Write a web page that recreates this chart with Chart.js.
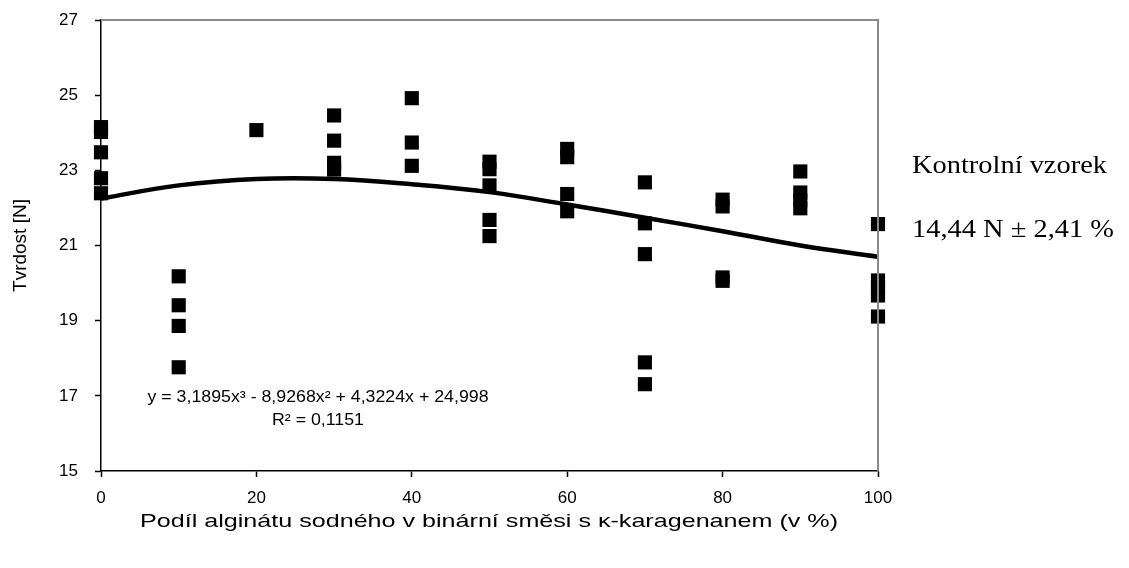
<!DOCTYPE html>
<html>
<head>
<meta charset="utf-8">
<script src="https://cdn.jsdelivr.net/npm/chart.js@4.4.1/dist/chart.umd.min.js"></script>
<style>
  html, body { margin: 0; padding: 0; background: #fff; }
  #wrap { width: 1129px; height: 568px; position: relative; }
</style>
</head>
<body>
<div id="wrap"><canvas id="c" width="1129" height="568"></canvas></div>
<script>
// ---- data ----
const xGroups = [0, 10, 20, 30, 40, 50, 60, 70, 80, 90, 100];
const hardness = [
  [24.15, 24.02, 23.48, 22.79, 22.39],
  [20.18, 19.41, 18.86, 17.76],
  [24.07],
  [24.46, 23.79, 23.2, 23.02],
  [24.92, 23.74, 23.12],
  [23.23, 23.03, 22.6, 21.68, 21.25],
  [23.57, 23.35, 22.37, 21.91],
  [22.68, 21.59, 20.77, 17.89, 17.31],
  [22.22, 22.04, 20.15, 20.06],
  [22.97, 22.41, 22.2, 21.99],
  [21.57, 20.07, 19.88, 19.67, 19.11]
];
const trendY = [22.25, 22.6, 22.77, 22.77, 22.63, 22.42, 22.09, 21.74, 21.38, 21.0, 20.7];
const yTicks = [15, 17, 19, 21, 23, 25, 27];
const xTicks = [0, 20, 40, 60, 80, 100];
const xTitle = 'Podíl alginátu sodného v binární směsi s κ-karagenanem (v %)';
const yTitle = 'Tvrdost [N]';
const equationLines = ['y = 3,1895x³ - 8,9268x² + 4,3224x + 24,998', 'R² = 0,1151'];
const sideNotes = ['Kontrolní vzorek', '14,44 N ± 2,41 %'];

const points = [];
xGroups.forEach((x, i) => hardness[i].forEach(v => points.push({x: x, y: v})));
const trend = xGroups.map((x, i) => ({x: x, y: trendY[i]}));

const SANS = '"Liberation Sans", Arial, sans-serif';
const SERIF = '"Liberation Serif", "Times New Roman", serif';

const frame = {
  id: 'frame',
  afterDraw(chart) {
    const {ctx, chartArea: a} = chart;
    ctx.save();
    ctx.strokeStyle = '#8a8a8a';
    ctx.lineWidth = 2;
    ctx.beginPath();
    ctx.moveTo(a.left, a.top);
    ctx.lineTo(a.right, a.top);
    ctx.lineTo(a.right, a.bottom);
    ctx.stroke();
    ctx.restore();
  }
};

// draws a text line with a horizontal stretch factor k
function drawStretched(ctx, text, x, y, font, k, align) {
  ctx.save();
  ctx.font = font;
  const w = ctx.measureText(text).width * k;
  let x0 = x;
  if (align === 'center') x0 = x - w / 2;
  ctx.translate(x0, y);
  ctx.scale(k, 1);
  ctx.textAlign = 'left';
  ctx.textBaseline = 'middle';
  ctx.fillText(text, 0, 0);
  ctx.restore();
}
function factorFor(ctx, text, font, width) {
  ctx.save();
  ctx.font = font;
  const w = ctx.measureText(text).width;
  ctx.restore();
  return width / w;
}

const notes = {
  id: 'notes',
  afterDraw(chart) {
    const {ctx} = chart;
    ctx.save();
    ctx.fillStyle = '#000';
    const eqFont = '16px ' + SANS;
    const kEq = factorFor(ctx, equationLines[0], eqFont, 341);
    drawStretched(ctx, equationLines[0], 318, 398, eqFont, kEq, 'center');
    drawStretched(ctx, equationLines[1], 318, 421, eqFont, kEq, 'center');
    const noteFont = '25px ' + SERIF;
    const kNote = factorFor(ctx, sideNotes[0], noteFont, 195);
    drawStretched(ctx, sideNotes[0], 912, 166, noteFont, kNote, 'left');
    drawStretched(ctx, sideNotes[1], 912, 230, noteFont, kNote, 'left');
    const tFont = '19px ' + SANS;
    drawStretched(ctx, xTitle, 489, 522, tFont, factorFor(ctx, xTitle, tFont, 698), 'center');
    ctx.restore();
  }
};

new Chart(document.getElementById('c'), {
  type: 'scatter',
  data: {
    datasets: [
      {
        data: trend,
        type: 'line',
        showLine: true,
        borderColor: '#000',
        borderWidth: 4.5,
        pointRadius: 0,
        tension: 0.4,
        fill: false,
        order: 2
      },
      {
        data: points,
        pointStyle: 'rect',
        pointRadius: 10,
        pointHoverRadius: 10,
        backgroundColor: '#000',
        borderColor: '#000',
        borderWidth: 0,
        clip: false,
        order: 1
      }
    ]
  },
  options: {
    responsive: false,
    animation: false,
    events: [],
    layout: { autoPadding: false, padding: { left: 0, top: 20, right: 251, bottom: 0 } },
    plugins: { legend: { display: false }, tooltip: { enabled: false } },
    scales: {
      x: {
        type: 'linear',
        min: 0, max: 100,
        afterBuildTicks(s) { s.ticks = xTicks.map(v => ({value: v})); },
        afterFit(s) { s.height = 97; s.paddingLeft = 0; s.paddingRight = 0; },
        grid: { drawOnChartArea: false, tickLength: 6, color: '#000', tickWidth: 1.5 },
        border: { color: '#000', width: 1.5 },
        ticks: { color: '#000', font: { family: SANS, size: 17 }, padding: 11, maxRotation: 0 },
        title: { display: false }
      },
      y: {
        type: 'linear',
        min: 15, max: 27,
        afterBuildTicks(s) { s.ticks = yTicks.map(v => ({value: v})); },
        afterFit(s) { s.width = 101; s.paddingTop = 0; s.paddingBottom = 0; },
        grid: { drawOnChartArea: false, tickLength: 6, color: '#000', tickWidth: 1.5 },
        border: { color: '#000', width: 1.5 },
        ticks: { color: '#000', font: { family: SANS, size: 17 }, padding: 17 },
        title: { display: true, text: yTitle, color: '#000', font: { family: SANS, size: 19 }, padding: { top: 9, bottom: 0 } }
      }
    }
  },
  plugins: [frame, notes]
});
</script>
</body>
</html>
